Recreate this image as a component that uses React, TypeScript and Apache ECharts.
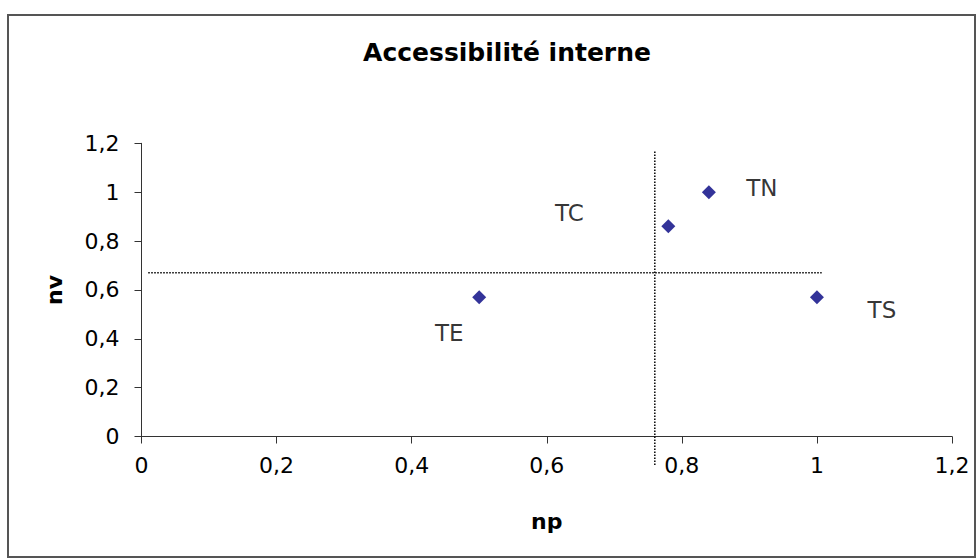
import React, { useEffect, useRef } from "react";
import * as echarts from "echarts";

const pointNames = ["TE", "TC", "TN", "TS"];
const npValues = [0.5, 0.78, 0.84, 1.0];
const nvValues = [0.57, 0.86, 1.0, 0.57];
const verticalRef = [
  [0.76, -0.117],
  [0.76, 1.166],
];
const horizontalRef = [
  [0.01, 0.67],
  [1.007, 0.67],
];
const axisMin = 0;
const axisMax = 1.2;
const axisStep = 0.2;

const labelOffsets: Record<string, number[]> = {
  TE: [-30, 36],
  TC: [-99, -13],
  TN: [53, -4],
  TS: [65, 13],
};

const FONT = "DejaVu Sans";
const fmt = (v: number) => String(Math.round(v * 10) / 10).replace(".", ",");

export default function App() {
  const ref = useRef<HTMLDivElement>(null);
  useEffect(() => {
    if (!ref.current) return;
    const chart = echarts.init(ref.current, undefined, { renderer: "svg" });
    const points = pointNames.map((n, i) => ({
      name: n,
      value: [npValues[i], nvValues[i]],
      label: { offset: labelOffsets[n] },
    }));
    chart.setOption({
      animation: false,
      backgroundColor: "#ffffff",
      title: {
        text: "Accessibilité interne",
        left: 502,
        top: 35,
        textAlign: "center",
        textStyle: { fontFamily: FONT, fontSize: 25, fontWeight: "bold", color: "#000" },
      },
      graphic: [
        {
          type: "rect",
          shape: { x: 8, y: 15, width: 967, height: 542 },
          style: { fill: "none", stroke: "#555", lineWidth: 2 },
          silent: true,
        },
      ],
      grid: { left: 141.5, right: 25, top: 143.3, bottom: 123.5, containLabel: false },
      xAxis: {
        type: "value",
        min: axisMin,
        max: axisMax,
        interval: axisStep,
        name: "np",
        nameLocation: "middle",
        nameGap: 74,
        nameTextStyle: { fontFamily: FONT, fontSize: 22, fontWeight: "bold", color: "#000" },
        axisLine: { lineStyle: { color: "#333", width: 1 } },
        axisTick: { length: 7, lineStyle: { color: "#333" } },
        axisLabel: { formatter: fmt, fontFamily: FONT, fontSize: 22, color: "#000", margin: 18 },
        splitLine: { show: false },
      },
      yAxis: {
        type: "value",
        min: axisMin,
        max: axisMax,
        interval: axisStep,
        name: "nv",
        nameLocation: "middle",
        nameGap: 76,
        nameRotate: 90,
        nameTextStyle: { fontFamily: FONT, fontSize: 22, fontWeight: "bold", color: "#000" },
        axisLine: { show: true, lineStyle: { color: "#333", width: 1 } },
        axisTick: { show: true, length: 7, lineStyle: { color: "#333" } },
        axisLabel: { formatter: fmt, fontFamily: FONT, fontSize: 22, color: "#000", margin: 22 },
        splitLine: { show: false },
      },
      series: [
        {
          type: "line",
          data: verticalRef,
          symbol: "none",
          clip: false,
          silent: true,
          lineStyle: { color: "#000", width: 1.5, type: [1.5, 1.5] },
        },
        {
          type: "line",
          data: horizontalRef,
          symbol: "none",
          clip: false,
          silent: true,
          lineStyle: { color: "#000", width: 1.5, type: [1.5, 1.5] },
        },
        {
          type: "scatter",
          data: points,
          symbol: "diamond",
          symbolSize: 14,
          itemStyle: { color: "#000080" },
          label: {
            show: true,
            position: "inside",
            formatter: (p: any) => p.name,
            fontFamily: FONT,
            fontSize: 23,
            color: "#000",
          },
        },
      ],
    });
    return () => chart.dispose();
  }, []);
  return (
    <div
      ref={ref}
      style={{ position: "fixed", left: 0, top: 0, width: 977, height: 560 }}
    />
  );
}
